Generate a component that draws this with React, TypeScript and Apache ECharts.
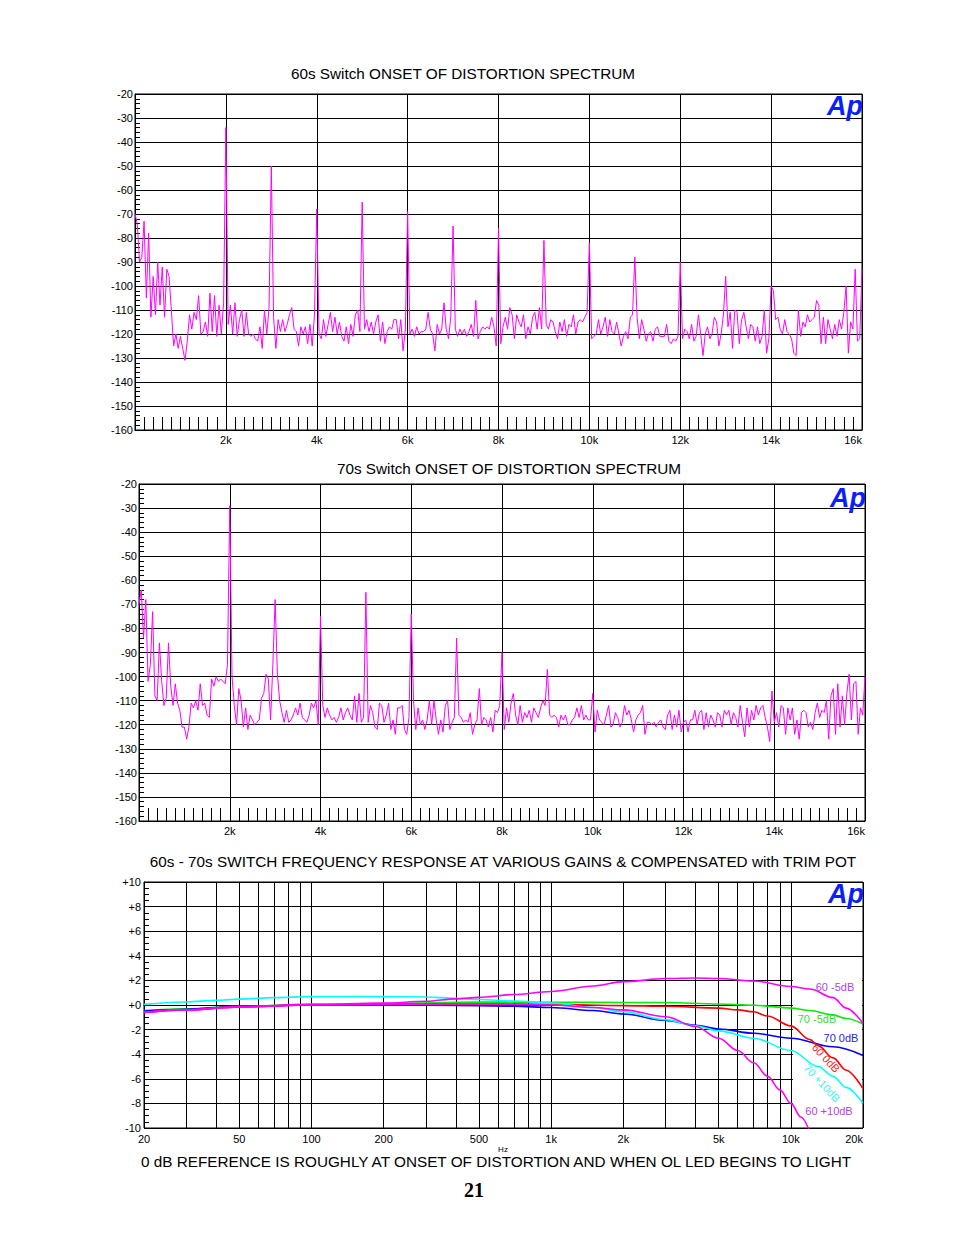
import React, { useEffect, useRef } from 'react';
import * as echarts from 'echarts';

const FONT = '"Liberation Sans", Arial, Helvetica, sans-serif';
const BIN_HZ = 50;

// 60s switch spectrum (dB), one value per 50 Hz bin, 0 .. 16 kHz
const spec60 = [
  -70, -74, -90, -88, -73, -105, -78, -113, -96, -112, -90, -108, -92, -113, -93, -96, -110, -125, -120, -126,
  -121, -126, -131, -123, -112, -118, -111, -114, -104, -120, -119, -115, -121, -103, -119, -104, -121, -108, -120, -107,
  -34, -116, -108, -120, -107, -121, -114, -110, -121, -111, -120, -121, -120, -122, -123, -117, -126, -110, -120, -109,
  -50, -113, -126, -114, -119, -114, -119, -116, -112, -109, -118, -119, -125, -117, -120, -117, -124, -116, -125, -112,
  -68, -120, -122, -114, -121, -116, -111, -119, -113, -120, -115, -121, -123, -117, -124, -116, -121, -112, -110, -119,
  -65, -118, -114, -119, -115, -120, -115, -112, -123, -115, -124, -119, -117, -118, -114, -114, -122, -114, -127, -118,
  -69, -120, -118, -121, -117, -120, -119, -119, -118, -111, -118, -120, -127, -116, -120, -118, -107, -118, -122, -113,
  -75, -118, -121, -118, -120, -118, -121, -119, -116, -121, -106, -122, -119, -117, -118, -117, -118, -113, -117, -125,
  -76, -124, -117, -113, -118, -109, -112, -122, -112, -115, -117, -112, -122, -117, -120, -113, -111, -118, -109, -118,
  -81, -116, -118, -114, -115, -119, -122, -115, -119, -114, -121, -116, -117, -112, -120, -115, -114, -115, -113, -111,
  -82, -122, -121, -120, -114, -120, -117, -113, -121, -114, -119, -120, -115, -120, -125, -121, -119, -122, -113, -112,
  -88, -113, -122, -114, -118, -123, -120, -119, -123, -118, -117, -121, -121, -121, -116, -123, -124, -122, -123, -121,
  -90, -122, -118, -119, -122, -116, -123, -121, -112, -120, -129, -120, -117, -122, -120, -113, -115, -125, -120, -112,
  -96, -117, -111, -126, -110, -111, -124, -114, -111, -117, -122, -116, -117, -123, -117, -124, -121, -110, -128, -122,
  -100, -102, -114, -113, -118, -120, -114, -119, -120, -122, -128, -129, -110, -121, -115, -117, -112, -115, -114, -113,
  -106, -108, -124, -113, -124, -114, -118, -122, -116, -121, -114, -118, -111, -100, -128, -115, -118, -93, -123, -122, -93,
];

// 70s switch spectrum (dB), one value per 50 Hz bin, 0 .. 16 kHz
const spec70 = [
  -70, -64, -84, -68, -102, -95, -73, -108, -110, -86, -102, -112, -109, -86, -104, -112, -103, -111, -114, -121,
  -121, -126, -121, -111, -113, -110, -114, -103, -112, -111, -116, -117, -101, -104, -100, -102, -101, -102, -103, -95,
  -29, -100, -112, -120, -105, -110, -121, -113, -122, -116, -118, -120, -119, -118, -109, -107, -99, -101, -118, -95,
  -68, -99, -110, -115, -119, -114, -119, -118, -116, -113, -116, -111, -117, -118, -119, -116, -111, -113, -110, -120,
  -75, -112, -117, -113, -116, -118, -117, -119, -117, -113, -118, -115, -113, -116, -118, -108, -119, -107, -119, -117,
  -65, -119, -112, -115, -121, -122, -111, -112, -119, -116, -111, -122, -118, -124, -113, -113, -112, -122, -124, -117,
  -74, -110, -122, -113, -120, -118, -122, -118, -110, -120, -110, -118, -124, -118, -123, -112, -110, -122, -119, -117,
  -84, -116, -117, -119, -118, -119, -115, -124, -120, -118, -105, -120, -117, -118, -121, -117, -123, -114, -115, -112,
  -90, -122, -113, -119, -111, -107, -116, -120, -112, -119, -115, -117, -114, -119, -113, -115, -117, -113, -110, -112,
  -97, -116, -117, -116, -117, -121, -116, -118, -116, -120, -120, -118, -117, -113, -117, -112, -118, -116, -118, -118,
  -107, -123, -114, -118, -119, -120, -116, -112, -121, -120, -115, -117, -121, -119, -112, -116, -114, -118, -123, -118,
  -116, -115, -112, -124, -119, -119, -120, -119, -121, -119, -118, -121, -122, -116, -114, -122, -116, -121, -114, -123,
  -119, -118, -123, -118, -118, -114, -120, -115, -114, -122, -115, -121, -116, -118, -121, -115, -116, -121, -114, -116,
  -114, -120, -115, -117, -121, -112, -119, -125, -113, -121, -114, -118, -112, -116, -113, -112, -117, -121, -127, -106,
  -119, -115, -121, -112, -113, -124, -113, -118, -113, -124, -118, -126, -115, -114, -115, -121, -119, -122, -115, -111,
  -117, -114, -115, -110, -126, -108, -105, -124, -103, -121, -108, -120, -107, -99, -118, -103, -102, -124, -113, -116, -100,
];

// Frequency response curves (Hz, dB)
const fr60m5 = [20, 30, 50, 100, 200, 300, 400, 500, 700, 1000, 1500, 2000, 3000, 4000, 5000, 7000, 10000, 12000, 15000, 17000, 20000];
const db60m5 = [-0.6, -0.4, -0.15, 0.05, 0.15, 0.3, 0.5, 0.62, 0.85, 1.1, 1.55, 1.9, 2.15, 2.2, 2.15, 1.95, 1.5, 1.3, 0.6, -0.25, -1.5];

const fr70m5 = [20, 30, 50, 100, 200, 500, 1000, 2000, 3000, 5000, 7000, 10000, 12000, 15000, 17000, 20000];
const db70m5 = [-0.45, -0.3, -0.1, 0.05, 0.12, 0.25, 0.22, 0.2, 0.2, 0.08, -0.02, -0.25, -0.45, -0.8, -1.1, -1.55];

const fr70z = [20, 30, 50, 100, 200, 500, 700, 1000, 1500, 2000, 3000, 4000, 5000, 7000, 10000, 15000, 20000];
const db70z = [-0.5, -0.35, -0.12, 0, 0.02, -0.05, -0.1, -0.2, -0.45, -0.73, -1.25, -1.65, -1.95, -2.3, -2.7, -3.4, -4.1];

const fr60z = [20, 30, 50, 100, 200, 500, 1000, 2000, 3000, 5000, 6000, 7000, 8000, 10000, 12000, 13000, 15000, 17000, 20000];
const db60z = [-0.6, -0.4, -0.15, 0, 0.05, 0.1, 0.05, -0.05, -0.1, -0.25, -0.4, -0.55, -0.9, -1.7, -2.8, -3.3, -4.3, -5.3, -6.8];

const fr70p10 = [20, 30, 40, 50, 70, 100, 200, 300, 400, 500, 700, 1000, 1500, 2000, 3000, 4000, 5000, 7000, 10000, 13000, 15000, 17000, 20000];
const db70p10 = [0.05, 0.25, 0.38, 0.48, 0.6, 0.68, 0.68, 0.65, 0.55, 0.45, 0.32, 0.15, -0.2, -0.55, -1.2, -1.7, -2.1, -2.7, -3.7, -5.0, -5.8, -6.7, -8.0];

const fr60p10 = [20, 30, 50, 100, 200, 500, 1000, 1500, 2000, 3000, 4000, 5000, 6000, 7000, 8000, 9000, 10000, 11000, 12000];
const db60p10 = [-0.6, -0.4, -0.15, 0, 0.05, 0.1, 0, -0.2, -0.4, -0.95, -1.75, -2.7, -3.7, -4.7, -5.8, -6.9, -8.0, -9.1, -10.3];

const resGridFreqs = [20, 30, 40, 50, 60, 70, 80, 90, 100, 200, 300, 400, 500, 600, 700, 800, 900,
  1000, 2000, 3000, 4000, 5000, 6000, 7000, 8000, 9000, 10000, 20000];
const resLabelFreqs = [20, 50, 100, 200, 500, 1000, 2000, 5000, 10000, 20000];

const lg = (f: number) => Math.log10(f);

function specX(gridIndex: number) {
  return {
    type: 'value', gridIndex, min: 0, max: 16000, interval: 2000,
    axisLine: { show: true, lineStyle: { color: '#000', width: 1 } },
    axisTick: { show: true, inside: true, length: 13, lineStyle: { color: '#000', width: 1 } },
    minorTick: { show: true, splitNumber: 10, length: 13, lineStyle: { color: '#000', width: 1 } },
    splitLine: { show: true, lineStyle: { color: '#000', width: 1 } },
    axisLabel: {
      margin: 4, color: '#000', fontSize: 11, fontFamily: FONT, alignMaxLabel: 'right',
      formatter: (v: number) => (v === 0 ? '' : v / 1000 + 'k'),
    },
  };
}

function specY(gridIndex: number) {
  return {
    type: 'value', gridIndex, min: -160, max: -20, interval: 10,
    axisLine: { show: true, lineStyle: { color: '#000', width: 1 } },
    axisTick: { show: true, inside: true, length: 5, lineStyle: { color: '#000', width: 1 } },
    minorTick: { show: true, splitNumber: 5, length: 5, lineStyle: { color: '#000', width: 1 } },
    splitLine: { show: true, lineStyle: { color: '#000', width: 1 } },
    axisLabel: { margin: 2, color: '#000', fontSize: 11, fontFamily: FONT, showMinLabel: true, showMaxLabel: true },
  };
}

function specSeries(values: number[], idx: number) {
  return {
    type: 'line', xAxisIndex: idx, yAxisIndex: idx,
    data: values.map((v, i) => [i * BIN_HZ, v]),
    showSymbol: false, symbol: 'none', z: 3,
    lineStyle: { color: '#ff00ff', width: 1 },
  };
}

function resSeries(fr: number[], db: number[], color: string) {
  return {
    type: 'line', xAxisIndex: 2, yAxisIndex: 2,
    data: fr.map((f, i) => [lg(f), db[i]]),
    showSymbol: false, symbol: 'none', smooth: 0.35, smoothMonotone: 'x', z: 3,
    lineStyle: { color, width: 1.6 },
  };
}

function txt(text: string, x: number, y: number, size: number, fill = '#000', extra: any = {}, rotation = 0) {
  return {
    type: 'text', x, y, rotation, z: 100,
    style: {
      text, fill, fontSize: size, fontFamily: FONT,
      textAlign: 'center', textVerticalAlign: 'middle', ...extra,
    },
  };
}

function apLogo(x: number, y: number) {
  return txt('Ap', x, y, 27, '#0a1eff', { fontWeight: 'bold', fontStyle: 'italic', fontFamily: '"Liberation Sans", Arial, sans-serif' });
}

export default function App() {
  const ref = useRef<HTMLDivElement>(null);
  useEffect(() => {
    if (!ref.current) return;
    const chart = echarts.init(ref.current, undefined, { renderer: 'svg' });
    const gridBase = { show: true, borderColor: '#000', borderWidth: 1, backgroundColor: 'transparent', containLabel: false };
    const option: any = {
      animation: false,
      backgroundColor: '#fff',
      grid: [
        { ...gridBase, left: 135, top: 94, width: 727, height: 336 },
        { ...gridBase, left: 139, top: 484, width: 726, height: 337 },
        { ...gridBase, left: 144, top: 882, width: 719, height: 246 },
      ],
      xAxis: [
        specX(0),
        specX(1),
        {
          type: 'value', gridIndex: 2, min: lg(20), max: lg(20000),
          axisLine: { show: true, lineStyle: { color: '#000', width: 1 } },
          axisTick: { show: false, customValues: resGridFreqs.map(lg) },
          splitLine: { show: true, lineStyle: { color: '#000', width: 1 } },
          axisLabel: {
            customValues: resLabelFreqs.map(lg), margin: 5, color: '#000', fontSize: 11, fontFamily: FONT,
            alignMaxLabel: 'right',
            formatter: (v: number) => {
              const f = Math.round(Math.pow(10, v));
              return f >= 1000 ? f / 1000 + 'k' : String(f);
            },
          },
        },
      ],
      yAxis: [
        specY(0),
        specY(1),
        {
          type: 'value', gridIndex: 2, min: -10, max: 10, interval: 2,
          axisLine: { show: true, lineStyle: { color: '#000', width: 1 } },
          axisTick: { show: true, inside: true, length: 5, lineStyle: { color: '#000', width: 1 } },
          minorTick: { show: true, splitNumber: 4, length: 5, lineStyle: { color: '#000', width: 1 } },
          splitLine: { show: true, lineStyle: { color: '#000', width: 1 } },
          axisLabel: {
            margin: 3, color: '#000', fontSize: 11, fontFamily: FONT, showMinLabel: true, showMaxLabel: true,
            formatter: (v: number) => (v > 0 ? '+' + v : v === 0 ? '+0' : String(v)),
          },
        },
      ],
      series: [
        specSeries(spec60, 0),
        specSeries(spec70, 1),
        {
          type: 'line', xAxisIndex: 2, yAxisIndex: 2, data: [], z: 1,
          markArea: {
            silent: true, z: 1,
            itemStyle: { color: '#fff', borderWidth: 0 },
            data: [[{ coord: [lg(10200), 3] }, { coord: [lg(19800), -9.9] }]],
          },
        },
        resSeries(fr70m5, db70m5, '#00ee00'),
        resSeries(fr70z, db70z, '#0000ff'),
        resSeries(fr60z, db60z, '#ff0000'),
        resSeries(fr70p10, db70p10, '#00ffff'),
        resSeries(fr60m5, db60m5, '#ff00ff'),
        resSeries(fr60p10, db60p10, '#ff00ff'),
      ],
      graphic: {
        elements: [
          txt('60s Switch ONSET OF DISTORTION SPECTRUM', 463, 73, 15.3),
          txt('70s Switch ONSET OF DISTORTION SPECTRUM', 509, 468, 15.3),
          txt('60s - 70s SWITCH FREQUENCY RESPONSE AT VARIOUS GAINS & COMPENSATED with TRIM POT', 503, 861, 15.3),
          txt('0 dB REFERENCE IS ROUGHLY AT ONSET OF DISTORTION AND WHEN OL LED BEGINS TO LIGHT', 496, 1161, 15.3),
          txt('Hz', 503, 1149, 8),
          txt('21', 474, 1190, 20, '#000', { fontWeight: 'bold', fontFamily: '"Liberation Serif", "Times New Roman", serif' }),
          apLogo(845, 106),
          apLogo(848, 498),
          apLogo(846, 894),
          txt('60 -5dB', 835, 987, 11, '#b044e8'),
          txt('70 -5dB', 817, 1019, 11, '#33dd33'),
          txt('70 0dB', 841, 1038, 11, '#2626e0'),
          txt('60 0dB', 826, 1058, 11, '#ff2020', {}, -0.82),
          txt('70 +10dB', 822, 1083, 11, '#40f0f0', {}, -0.82),
          txt('60 +10dB', 829, 1111, 11, '#b044e8'),
        ],
      },
    };
    chart.setOption(option);
    return () => chart.dispose();
  }, []);
  return (
    <div
      ref={ref}
      style={{ position: 'absolute', left: 0, top: 0, width: 954, height: 1235, background: '#fff' }}
    />
  );
}
